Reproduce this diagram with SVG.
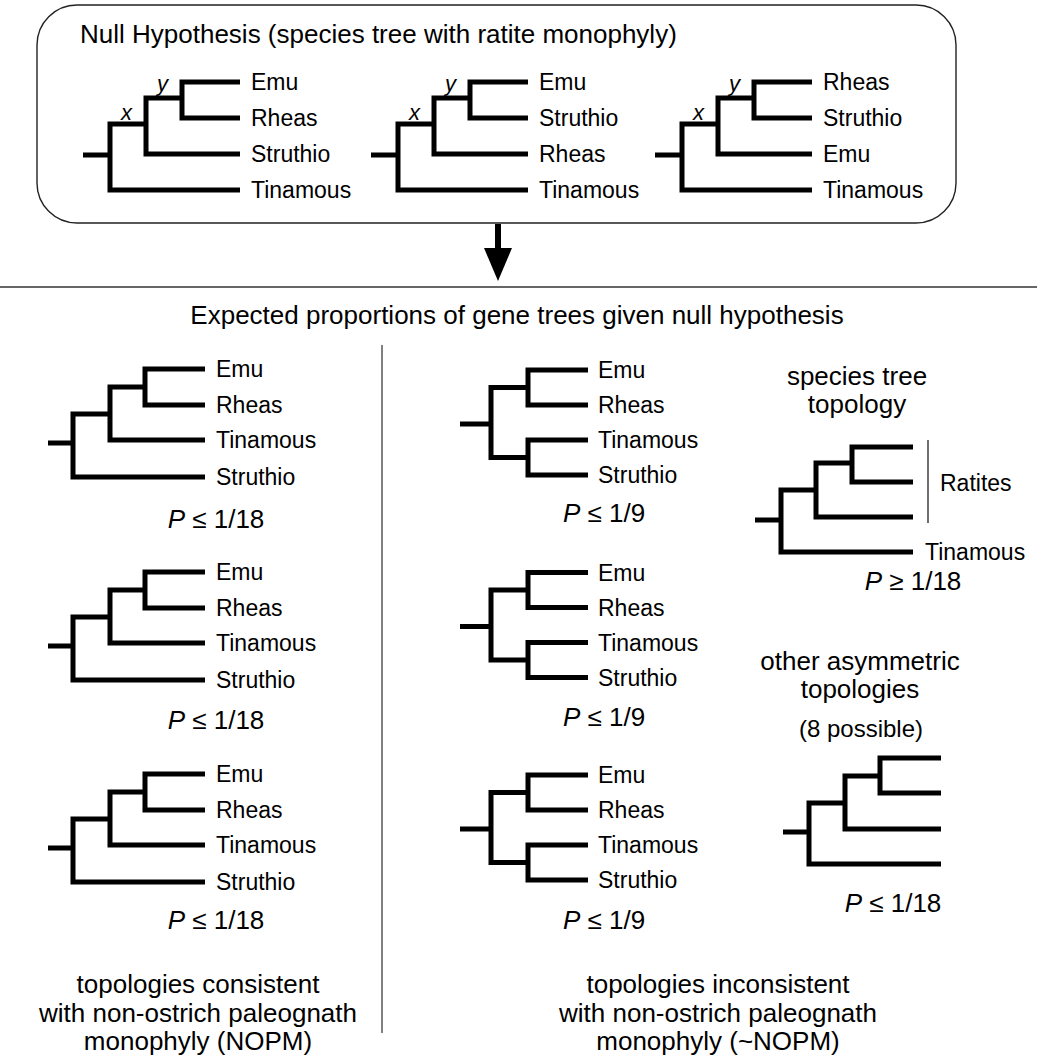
<svg xmlns="http://www.w3.org/2000/svg" width="1037" height="1059" viewBox="0 0 1037 1059">
<style>
text{font-family:"Liberation Sans",Arial,sans-serif;fill:#000}
.leaf{font-size:23px}
.big{font-size:26px}
.mid{text-anchor:middle}
.node{font-size:22px;font-style:italic}
.br{fill:none;stroke:#000;stroke-width:5;stroke-linejoin:miter;stroke-linecap:butt}
</style>
<rect width="1037" height="1059" fill="#fff"/>

<g id="null-hypothesis-box">
<rect x="37" y="5" width="919" height="218" rx="40" ry="40" fill="none" stroke="#222" stroke-width="1.4"/>
<text class="big" x="80" y="43">Null Hypothesis (species tree with ratite monophyly)</text>
</g>

<g id="null-tree-1">
<path class="br" d="M240,82 H182 V118 H240 M182,98 H146 V154 H240 M146,124 H110 V190 H240 M83,155 H110"/>
<text class="node" x="121" y="120">x</text>
<text class="node" x="157" y="91">y</text>
<text class="leaf" x="251" y="90">Emu</text>
<text class="leaf" x="251" y="126">Rheas</text>
<text class="leaf" x="251" y="162">Struthio</text>
<text class="leaf" x="251" y="198">Tinamous</text>
</g>

<g id="null-tree-2" transform="translate(288,0)">
<path class="br" d="M240,82 H182 V118 H240 M182,98 H146 V154 H240 M146,124 H110 V190 H240 M83,155 H110"/>
<text class="node" x="121" y="120">x</text>
<text class="node" x="157" y="91">y</text>
<text class="leaf" x="251" y="90">Emu</text>
<text class="leaf" x="251" y="126">Struthio</text>
<text class="leaf" x="251" y="162">Rheas</text>
<text class="leaf" x="251" y="198">Tinamous</text>
</g>

<g id="null-tree-3" transform="translate(572,0)">
<path class="br" d="M240,82 H182 V118 H240 M182,98 H146 V154 H240 M146,124 H110 V190 H240 M83,155 H110"/>
<text class="node" x="121" y="120">x</text>
<text class="node" x="157" y="91">y</text>
<text class="leaf" x="251" y="90">Rheas</text>
<text class="leaf" x="251" y="126">Struthio</text>
<text class="leaf" x="251" y="162">Emu</text>
<text class="leaf" x="251" y="198">Tinamous</text>
</g>

<g id="connectors">
<line x1="498" y1="224" x2="498" y2="250" stroke="#000" stroke-width="6"/>
<polygon points="484,248 512,248 498,281" fill="#000"/>
</g>

<g id="section-divider">
<line x1="0" y1="287" x2="1037" y2="287" stroke="#333" stroke-width="1.5"/>
<text class="big mid" x="517" y="324">Expected proportions of gene trees given null hypothesis</text>
<line x1="382" y1="345" x2="382" y2="1033" stroke="#808080" stroke-width="2"/>
</g>

<g id="nopm-tree-1">
<path class="br" d="M205,369 H145 V405 H205 M145,387 H110 V440 H205 M110,414 H73 V477 H205 M48,443 H73"/>
<text class="leaf" x="216" y="377">Emu</text>
<text class="leaf" x="216" y="413">Rheas</text>
<text class="leaf" x="216" y="448">Tinamous</text>
<text class="leaf" x="216" y="485">Struthio</text>
<text class="big mid" x="216" y="528"><tspan font-style="italic">P</tspan> ≤ 1/18</text>
</g>

<g id="nopm-tree-2" transform="translate(0,203)">
<path class="br" d="M205,369 H145 V405 H205 M145,387 H110 V440 H205 M110,414 H73 V477 H205 M48,443 H73"/>
<text class="leaf" x="216" y="377">Emu</text>
<text class="leaf" x="216" y="413">Rheas</text>
<text class="leaf" x="216" y="448">Tinamous</text>
<text class="leaf" x="216" y="485">Struthio</text>
<text class="big mid" x="216" y="525.5"><tspan font-style="italic">P</tspan> ≤ 1/18</text>
</g>

<g id="nopm-tree-3" transform="translate(0,405)">
<path class="br" d="M205,369 H145 V405 H205 M145,387 H110 V440 H205 M110,414 H73 V477 H205 M48,443 H73"/>
<text class="leaf" x="216" y="377">Emu</text>
<text class="leaf" x="216" y="413">Rheas</text>
<text class="leaf" x="216" y="448">Tinamous</text>
<text class="leaf" x="216" y="485">Struthio</text>
<text class="big mid" x="216" y="524"><tspan font-style="italic">P</tspan> ≤ 1/18</text>
</g>

<g id="nopm-caption">
<text class="big mid" x="198" y="993">topologies consistent</text>
<text class="big mid" x="198" y="1022">with non-ostrich paleognath</text>
<text class="big mid" x="198" y="1050">monophyly (NOPM)</text>
</g>

<g id="not-nopm-tree-1">
<path class="br" d="M588,370 H528 V405 H588 M588,440 H528 V475 H588 M528,387.5 H491 V457.5 H528 M460,424 H491"/>
<text class="leaf" x="598" y="378">Emu</text>
<text class="leaf" x="598" y="413">Rheas</text>
<text class="leaf" x="598" y="448">Tinamous</text>
<text class="leaf" x="598" y="483">Struthio</text>
<text class="big mid" x="604" y="522"><tspan font-style="italic">P</tspan> ≤ 1/9</text>
</g>

<g id="not-nopm-tree-2" transform="translate(0,202.5)">
<path class="br" d="M588,370 H528 V405 H588 M588,440 H528 V475 H588 M528,387.5 H491 V457.5 H528 M460,424 H491"/>
<text class="leaf" x="598" y="378">Emu</text>
<text class="leaf" x="598" y="413">Rheas</text>
<text class="leaf" x="598" y="448">Tinamous</text>
<text class="leaf" x="598" y="483">Struthio</text>
<text class="big mid" x="604" y="523"><tspan font-style="italic">P</tspan> ≤ 1/9</text>
</g>

<g id="not-nopm-tree-3" transform="translate(0,405)">
<path class="br" d="M588,370 H528 V405 H588 M588,440 H528 V475 H588 M528,387.5 H491 V457.5 H528 M460,424 H491"/>
<text class="leaf" x="598" y="378">Emu</text>
<text class="leaf" x="598" y="413">Rheas</text>
<text class="leaf" x="598" y="448">Tinamous</text>
<text class="leaf" x="598" y="483">Struthio</text>
<text class="big mid" x="604" y="524"><tspan font-style="italic">P</tspan> ≤ 1/9</text>
</g>

<g id="species-tree-topology">
<text class="big mid" x="857" y="385">species tree</text>
<text class="big mid" x="857" y="413">topology</text>
<path class="br" d="M913,447 H852 V482 H913 M852,463 H816 V517 H913 M816,490 H781 V552 H913 M755,520 H781"/>
<line x1="928" y1="440" x2="928" y2="523" stroke="#222" stroke-width="1.3"/>
<text class="leaf" x="940" y="491">Ratites</text>
<text class="leaf" x="925" y="560">Tinamous</text>
<text class="big mid" x="913" y="590"><tspan font-style="italic">P</tspan> ≥ 1/18</text>
</g>

<g id="other-asymmetric-topologies">
<text class="big mid" x="860" y="670">other asymmetric</text>
<text class="big mid" x="860" y="698">topologies</text>
<text class="mid" x="861" y="737" font-size="24">(8 possible)</text>
<path class="br" d="M941,758 H880 V793 H941 M880,776 H845 V829 H941 M845,803 H809 V864 H941 M783,832 H809"/>
<text class="big mid" x="893" y="912"><tspan font-style="italic">P</tspan> ≤ 1/18</text>
</g>

<g id="not-nopm-caption">
<text class="big mid" x="718" y="993">topologies inconsistent</text>
<text class="big mid" x="718" y="1022">with non-ostrich paleognath</text>
<text class="big mid" x="718" y="1050">monophyly (~NOPM)</text>
</g>
</svg>
